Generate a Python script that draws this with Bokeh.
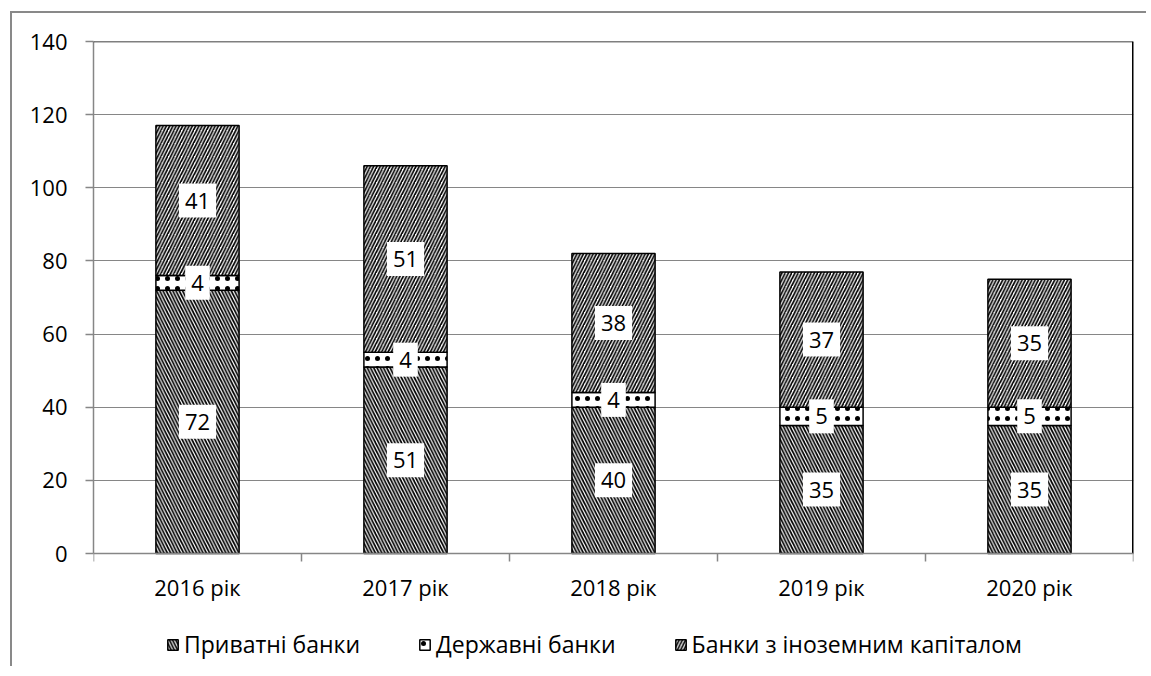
import numpy as np
from bokeh.plotting import figure
from bokeh.models import ColumnDataSource, FixedTicker, Legend, LegendItem, Span, Range1d
from bokeh.core.properties import value
from bokeh.embed import file_html
from bokeh.resources import INLINE

# ---- data ----
years = ["2016 рік", "2017 рік", "2018 рік", "2019 рік", "2020 рік"]
private = [72, 51, 40, 35, 35]
state = [4, 4, 4, 5, 5]
foreign = [41, 51, 38, 37, 35]
series_names = ["Приватні банки", "Державні банки", "Банки з іноземним капіталом"]
y_ticks = [0, 20, 40, 60, 80, 100, 120, 140]

FONT = "Open Sans"
GRAY = "#868686"
FS = "22px"

# ---- layout (pixels) ----
PLOT_H = 512              # pixel height of the 0..140 value area
BELOW = 115               # pixels reserved under the zero line (axis labels + legend)
ppu = PLOT_H / (y_ticks[-1] - y_ticks[0])
y_min = -BELOW / ppu

x = np.arange(len(years)) + 0.5
src = ColumnDataSource(dict(x=x, private=private, state=state, foreign=foreign))

p = figure(width=1136, height=28 + PLOT_H + BELOW,
           x_range=Range1d(0, len(years)), y_range=Range1d(y_min, y_ticks[-1]),
           output_backend="svg", toolbar_location=None, x_axis_location=None,
           min_border_left=81, min_border_top=28, min_border_right=15, min_border_bottom=0)
p.styles = {"border-left": "2px solid #898989", "border-top": "2px solid #898989",
            "margin-left": "10px", "margin-top": "11px"}
p.outline_line_color = None
p.background_fill_color = "white"
p.border_fill_color = "white"

p.xgrid.visible = False
p.ygrid.ticker = FixedTicker(ticks=y_ticks)
p.ygrid.grid_line_color = GRAY
p.ygrid.grid_line_width = 1

rs = p.vbar_stack(["private", "state", "foreign"], x="x", width=0.4, source=src,
                  fill_color="white", line_color="black", line_width=1.5,
                  hatch_pattern=["\\", ".", "/"], hatch_color="black",
                  hatch_scale=[6.5, 10, 6.5], hatch_weight=[1.7, 1.0, 1.7])

# segment labels
p_arr = np.array(private, dtype=float)
s_arr = np.array(state, dtype=float)
f_arr = np.array(foreign, dtype=float)
lab_x = np.concatenate([x, x, x])
lab_y = np.concatenate([p_arr / 2, p_arr + s_arr / 2, p_arr + s_arr + f_arr / 2])
lab_t = [str(v) for v in private + state + foreign]
lab_src = ColumnDataSource(dict(x=lab_x, y=lab_y, t=lab_t))
p.text(x="x", y="y", text="t", source=lab_src, text_align="center", text_baseline="middle",
       text_font=value(FONT), text_font_size=FS, text_color="black",
       background_fill_color="white", padding=(6, 9))

# category axis drawn at the zero line
p.add_layout(Span(location=0, dimension="width", line_color=GRAY, line_width=1.5))
bounds = np.arange(len(years) + 1)
tick_len = 8 / ppu
p.segment(x0=bounds, y0=np.zeros(len(bounds)), x1=bounds, y1=np.full(len(bounds), -tick_len),
          line_color=GRAY, line_width=1.5)
cat_src = ColumnDataSource(dict(x=x, y=np.full(len(years), -33 / ppu), t=years))
p.text(x="x", y="y", text="t", source=cat_src, text_align="center", text_baseline="middle",
       text_font=value(FONT), text_font_size=FS, text_color="black")

# value axis
p.yaxis.ticker = FixedTicker(ticks=y_ticks)
p.yaxis.bounds = (y_ticks[0], y_ticks[-1])
p.yaxis.major_tick_line_color = GRAY
p.yaxis.major_tick_line_width = 1.5
p.yaxis.major_tick_out = 8
p.yaxis.major_tick_in = 0
p.yaxis.minor_tick_line_color = None
p.yaxis.axis_line_color = GRAY
p.yaxis.axis_line_width = 1.5
p.yaxis.major_label_standoff = 18
p.yaxis.major_label_text_font = FONT
p.yaxis.major_label_text_font_size = FS
p.yaxis.major_label_text_color = "black"

# top and right edges of the value area
p.add_layout(Span(location=y_ticks[-1], dimension="width", line_color="black", line_width=1.5))
p.segment(x0=[len(years)], y0=[y_ticks[0]], x1=[len(years)], y1=[y_ticks[-1]],
          line_color="black", line_width=3)

legend = Legend(items=[LegendItem(label=n, renderers=[r]) for n, r in zip(series_names, rs)],
                orientation="horizontal", location=(73, 8),
                label_text_font=FONT, label_text_font_size="23px", label_text_color="black",
                glyph_width=13, glyph_height=13, label_standoff=5, spacing=58,
                padding=0, margin=0, border_line_color=None, background_fill_alpha=0)
p.add_layout(legend, "center")

open("out.html", "w").write(file_html(p, INLINE))
